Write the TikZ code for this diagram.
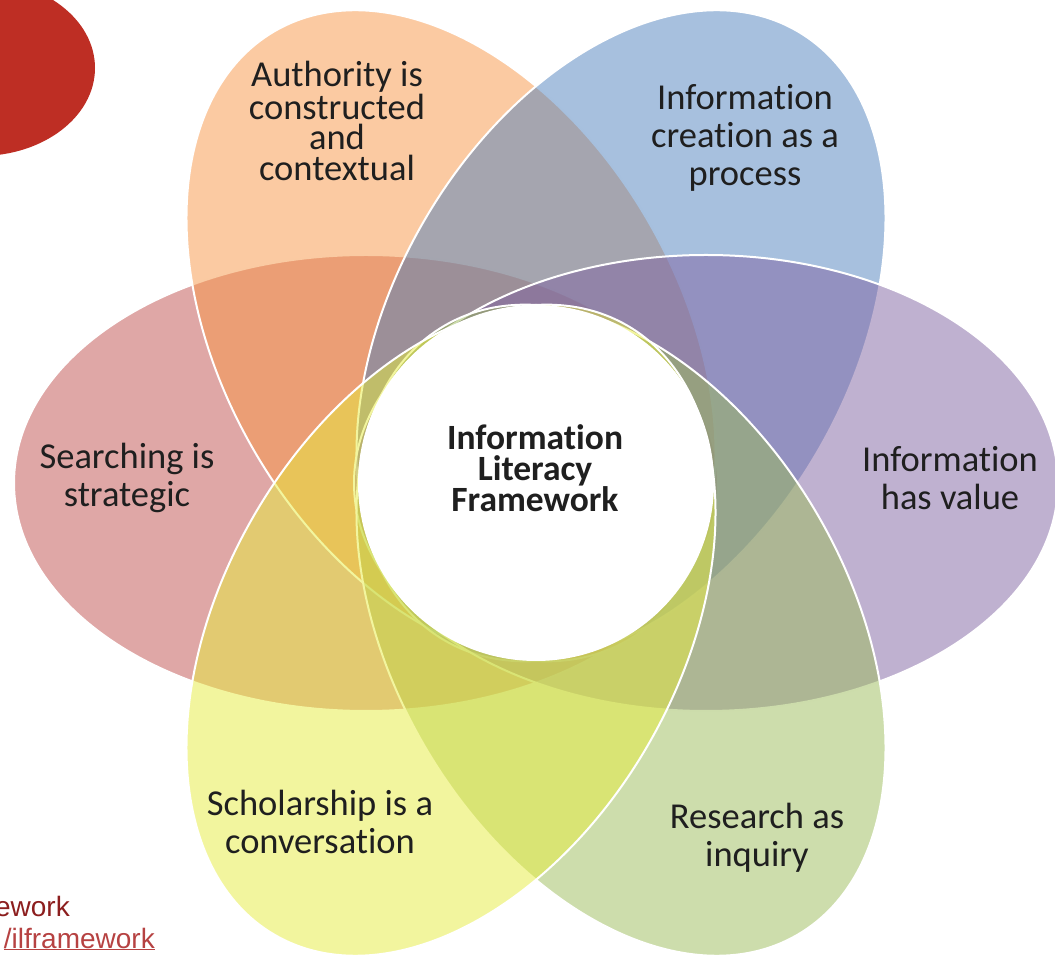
\documentclass[tikz,border=0pt]{standalone}
\usepackage{fontspec}
\setmainfont{Carlito}[Ligatures=NoCommon]
\setsansfont{Liberation Sans}
\definecolor{accred}{HTML}{C0504D}
\definecolor{accorange}{HTML}{F79646}
\definecolor{accblue}{HTML}{4F81BD}
\definecolor{accpurple}{HTML}{8064A2}
\definecolor{accgreen}{HTML}{9BBB59}
\definecolor{accyellow}{RGB}{230,236,62}
\definecolor{slidered}{RGB}{190,46,36}
\definecolor{linkdark}{RGB}{140,30,30}
\definecolor{linklight}{RGB}{182,66,66}
\tikzset{
  petal/.style={draw=white, line width=2pt, fill opacity=0.5},
  lbl/.style={align=center, inner sep=0pt, text=black!88,
    font=\fontsize{36.5}{38}\selectfont},
  hub/.style={circle, fill=white, minimum size=356pt, inner sep=0pt},
  reftext/.style={anchor=base east, inner sep=0pt,
    font=\sffamily\fontsize{28}{28}\selectfont}
}

\begin{document}
\begin{tikzpicture}[x=1pt, y=1pt]
  \useasboundingbox (0,0) rectangle (1055,964);
  \clip (0,0) rectangle (1055,964);
  % slide decoration
  \fill[slidered] (-20,896) ellipse [x radius=115pt, y radius=88pt];
  % the six petals
  \foreach \ang/\col in {180/accred, 120/accorange, 60/accblue,
                         0/accpurple, 300/accgreen, 240/accyellow}
    \draw[petal, fill=\col, shift={(536,481)}, rotate=\ang]
      (170,0) ellipse [x radius=352pt, y radius=228pt];
  \node[hub] (hub) at (536,481) {};
  \node[lbl, font=\bfseries\fontsize{35.5}{31}\selectfont] (title) at (535,496)
    {Information\\Literacy\\Framework};
  \node[lbl, font=\fontsize{36.5}{30.5}\selectfont] (authority) at (337,843)
    {Authority is\\constructed\\and\\contextual};
  \node[lbl] (creation) at (745,826) {Information\\creation as a\\process};
  \node[lbl] (value) at (950,486) {Information\\has value};
  \node[lbl] (searching) at (127,486) {Searching is\\strategic};
  \node[lbl] (scholarship) at (320,142) {Scholarship is a\\conversation};
  \node[lbl] (research) at (757,126) {Research as\\inquiry};
  % cut-off reference below the figure
  \node[reftext, text=linkdark] (fwref) at (70,47) {ework};
  \node[reftext, text=linklight] (fwlink) at (155,16) {\underline{/ilframework}};
\end{tikzpicture}
\end{document}
